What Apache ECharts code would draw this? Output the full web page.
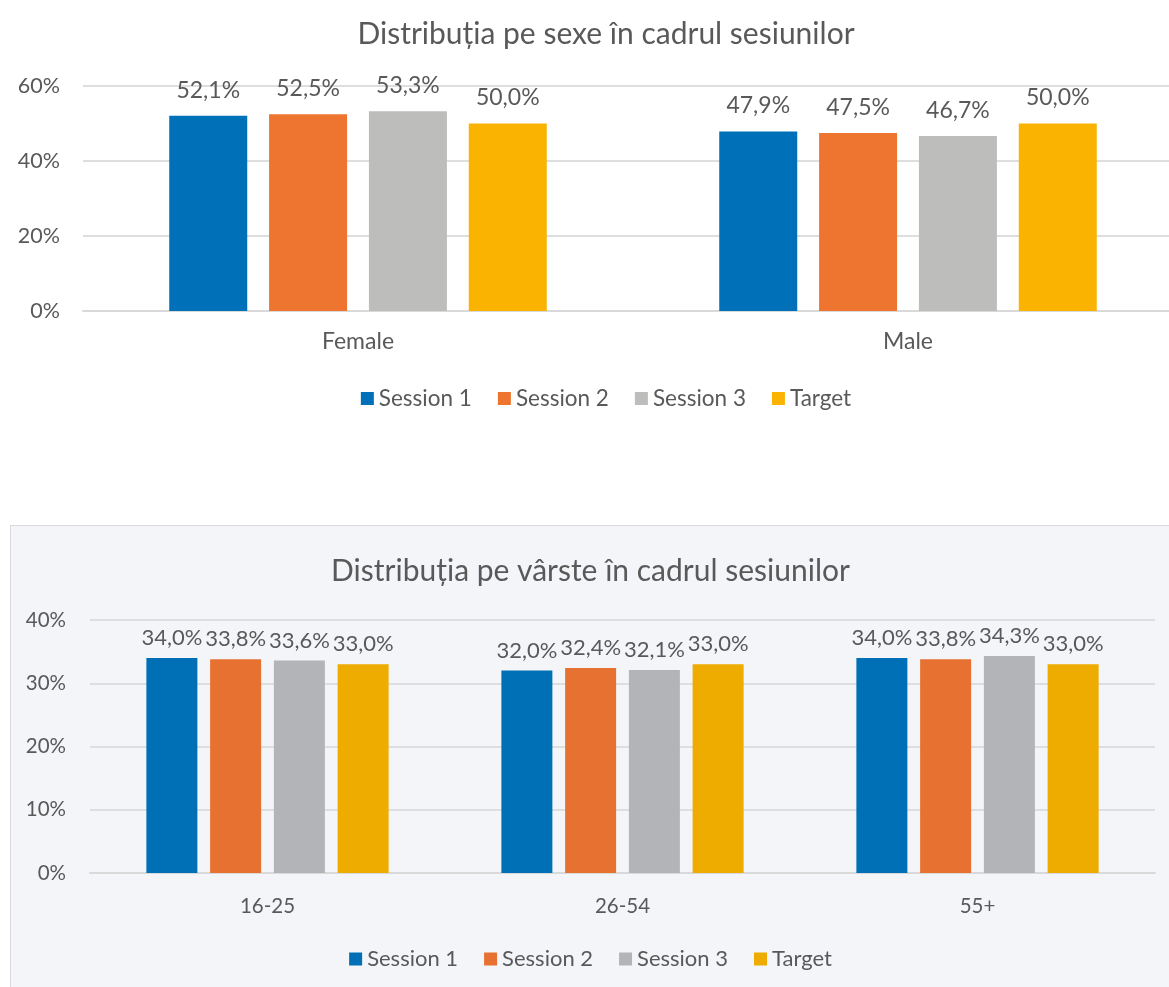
<!DOCTYPE html>
<html>
<head>
<meta charset="utf-8">
<script src="https://cdn.jsdelivr.net/npm/echarts@6/dist/echarts.min.js"></script>
<style>
  html, body { margin: 0; padding: 0; background: #ffffff; overflow: hidden; width: 1169px; height: 987px; }
  #sexChart { position: absolute; left: 0; top: 0; width: 1212px; height: 520px; }
  #ageChart { position: absolute; left: 10px; top: 525px; width: 1159px; height: 462px;
              background: #f4f5f9; border-top: 1px solid #d9d9dc; border-left: 1px solid #d9d9dc; }
</style>
</head>
<body>
<div id="sexChart"></div>
<div id="ageChart"></div>
<script>
var seriesNames = ['Session 1', 'Session 2', 'Session 3', 'Target'];

// distributia pe sexe
var sexCategories = ['Female', 'Male'];
var sexSession1 = [52.1, 47.9];
var sexSession2 = [52.5, 47.5];
var sexSession3 = [53.3, 46.7];
var sexTarget = [50.0, 50.0];
var sexTicks = [0, 20, 40, 60];

// distributia pe varste
var ageCategories = ['16-25', '26-54', '55+'];
var ageSession1 = [34.0, 32.0, 34.0];
var ageSession2 = [33.8, 32.4, 33.8];
var ageSession3 = [33.6, 32.1, 34.3];
var ageTarget = [33.0, 33.0, 33.0];
var ageTicks = [0, 10, 20, 30, 40];

var FONT = 'Lato, "Open Sans", sans-serif';
var TXT = '#595959';

function pct(v) {
    return v.toFixed(1).replace('.', ',') + '%';
}

function buildOption(cfg) {
    var series = [];
    for (var i = 0; i < cfg.data.length; i++) {
        series.push({
            name: seriesNames[i],
            type: 'bar',
            barWidth: cfg.barWidth,
            barGap: cfg.barGap,
            itemStyle: { color: cfg.colors[i] },
            label: {
                show: true,
                position: 'top',
                distance: cfg.labelDistance,
                color: TXT,
                fontFamily: FONT,
                fontSize: cfg.labelSize,
                formatter: function (p) { return pct(p.value); }
            },
            data: cfg.data[i]
        });
    }
    return {
        animation: false,
        color: cfg.colors,
        title: {
            text: cfg.title,
            left: 'center',
            top: cfg.titleTop,
            textStyle: { color: TXT, fontFamily: FONT, fontSize: 30, fontWeight: 'normal' }
        },
        legend: {
            data: seriesNames,
            left: 'center',
            top: cfg.legendTop,
            icon: 'rect',
            itemWidth: 13,
            itemHeight: 13,
            itemGap: 26,
            textStyle: { color: TXT, fontFamily: FONT, fontSize: cfg.legendSize }
        },
        grid: cfg.grid,
        xAxis: {
            type: 'category',
            data: cfg.categories,
            axisLine: { show: true, lineStyle: { color: '#d9d9d9', width: 2 } },
            axisTick: { show: false },
            axisLabel: { color: TXT, fontFamily: FONT, fontSize: cfg.xSize, margin: cfg.xMargin }
        },
        yAxis: {
            type: 'value',
            min: cfg.ticks[0],
            max: cfg.ticks[cfg.ticks.length - 1],
            interval: cfg.ticks[1] - cfg.ticks[0],
            axisLine: { show: false },
            axisTick: { show: false },
            splitLine: { lineStyle: { color: '#dedede', width: 2 } },
            axisLabel: { color: TXT, fontFamily: FONT, fontSize: cfg.ySize, margin: cfg.yMargin, formatter: '{value}%' }
        },
        series: series
    };
}

var sexChart = echarts.init(document.getElementById('sexChart'));
sexChart.setOption(buildOption({
    title: 'Distribuția pe sexe în cadrul sesiunilor',
    titleTop: 14,
    legendTop: 382,
    legendSize: 22.5,
    grid: { left: 83, top: 86, width: 1100, height: 225, containLabel: false },
    categories: sexCategories,
    data: [sexSession1, sexSession2, sexSession3, sexTarget],
    colors: ['#0071b9', '#ed7530', '#bdbdbb', '#f9b300'],
    ticks: sexTicks,
    barWidth: 78,
    barGap: '28%',
    labelDistance: 14,
    labelSize: 23,
    xSize: 23,
    xMargin: 19,
    ySize: 21.5,
    yMargin: 23
}));

var ageChart = echarts.init(document.getElementById('ageChart'));
ageChart.setOption(buildOption({
    title: 'Distribuția pe vârste în cadrul sesiunilor',
    titleTop: 25,
    legendTop: 417,
    legendSize: 22,
    grid: { left: 79, top: 94, width: 1065, height: 253, containLabel: false },
    categories: ageCategories,
    data: [ageSession1, ageSession2, ageSession3, ageTarget],
    colors: ['#0070b6', '#e67131', '#b3b4b7', '#eeab00'],
    ticks: ageTicks,
    barWidth: 51,
    barGap: '25%',
    labelDistance: 9,
    labelSize: 22,
    xSize: 20.5,
    xMargin: 23,
    ySize: 20.5,
    yMargin: 24
}));
</script>
</body>
</html>
